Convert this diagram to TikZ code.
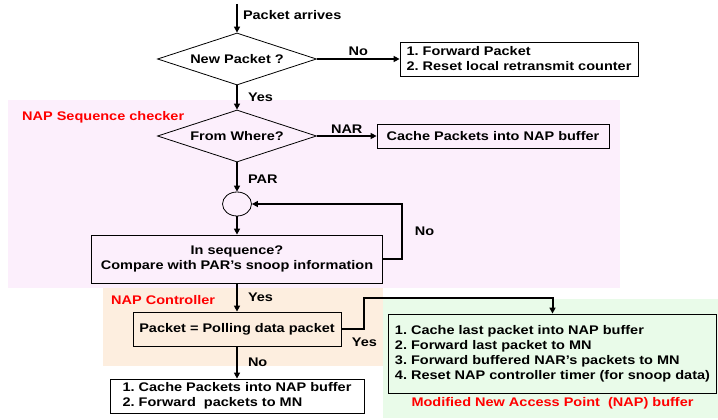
\documentclass[tikz,border=0pt]{standalone}
\usepackage{fontspec}
\setmainfont{Liberation Sans}[FakeStretch=1.16]
\usetikzlibrary{arrows.meta,positioning,shapes.geometric,calc}
\definecolor{seqpink}{HTML}{FCEFFC}
\definecolor{ctlorange}{HTML}{FDEEDF}
\definecolor{bufgreen}{HTML}{E9FBE9}
\definecolor{labelred}{HTML}{FF0000}
\tikzset{
  txt/.style={font=\bfseries\fontsize{12.5}{15}\selectfont\frenchspacing},
  box/.style={txt, draw=black, line width=0.8pt, inner sep=0pt, align=center},
  listbox/.style={box, align=left},
  decision/.style={txt, diamond, aspect=3.06, draw=black, line width=0.8pt, inner sep=0pt, minimum width=159pt, minimum height=52pt},
  junction/.style={ellipse, draw=black, line width=0.8pt, minimum width=29pt, minimum height=24pt, inner sep=0pt},
  arrow/.style={-{Triangle[length=6pt,width=6pt]}, line width=2pt},
  regionlabel/.style={txt, text=labelred, anchor=west, inner sep=0pt},
  lbl/.style={txt, inner sep=2pt}
}

\begin{document}
\begin{tikzpicture}[x=1pt, y=-1pt]
  \useasboundingbox (0,0) rectangle (718,420);
  \fill[seqpink] (8,100) rectangle (620,288);
  \fill[ctlorange] (103,288) rectangle (383,366);
  \fill[bufgreen] (383,299) rectangle (718,418);
  \node[regionlabel] (seqlabel) at (22,117) {NAP Sequence checker};
  \node[regionlabel] (ctllabel) at (111,300) {NAP Controller};

  \coordinate (entry) at (237,4);
  \node[decision] (newpkt) at (237,59) {New Packet ?};
  \node[listbox, minimum width=238pt, minimum height=34pt] (forward) at (519,59) {1. Forward Packet\\2. Reset local retransmit counter};
  \node[decision] (where) at (237,136) {From Where?};
  \node[box, minimum width=232pt, minimum height=24pt] (cache) at (493,136) {Cache Packets into NAP buffer};
  \node[junction] (junc) at (237,204) {};
  \node[box, minimum width=291pt, minimum height=48pt] (seq) at (237,259) {In sequence?\\Compare with PAR's snoop information};
  \node[box, minimum width=208pt, minimum height=34pt] (poll) at (237,329) {Packet = Polling data packet};
  \node[listbox, minimum width=254pt, minimum height=34pt] (cachefwd) at (237,396) {1. Cache Packets into NAP buffer\\2. Forward\ \ packets to MN};
  \node[listbox, minimum width=328pt, minimum height=79pt] (mod) at (552.5,353.5) {1. Cache last packet into NAP buffer\\2. Forward last packet to MN\\3. Forward buffered NAR's packets to MN\\4. Reset NAP controller timer (for snoop data)};
  \node[txt, text=labelred, below=1pt of mod] (modlabel) {Modified New Access Point\ \ (NAP) buffer};

  \draw[arrow] (entry) -- node[lbl, anchor=west, pos=0.4, xshift=3pt] {Packet arrives} (newpkt.north);
  \draw[arrow] (newpkt.east) -- node[lbl, above] {No} (forward.west);
  \draw[arrow] (newpkt.south) -- node[lbl, anchor=west, xshift=8pt] {Yes} (where.north);
  \draw[arrow] (where.east) -- node[lbl, above] {NAR} (cache.west);
  \draw[arrow] (where.south) -- node[lbl, anchor=west, xshift=8pt, yshift=-2pt] {PAR} (junc.north);
  \draw[arrow] (junc.south) -- (seq.north);
  \draw[arrow] (seq.east) -- ++(19,0) |- node[lbl, anchor=west, pos=0.25, xshift=10pt] {No} (junc.east);
  \draw[arrow] (seq.south) -- node[lbl, anchor=west, xshift=8pt] {Yes} (poll.north);
  \draw[arrow] (poll.south) -- node[lbl, anchor=west, xshift=8pt] {No} (cachefwd.north);
  \draw[arrow] (poll.east) -- ++(23,0) node[lbl, below=6pt] {Yes} |- ($(mod.north)+(0,-16)$) -- (mod.north);
\end{tikzpicture}
\end{document}
